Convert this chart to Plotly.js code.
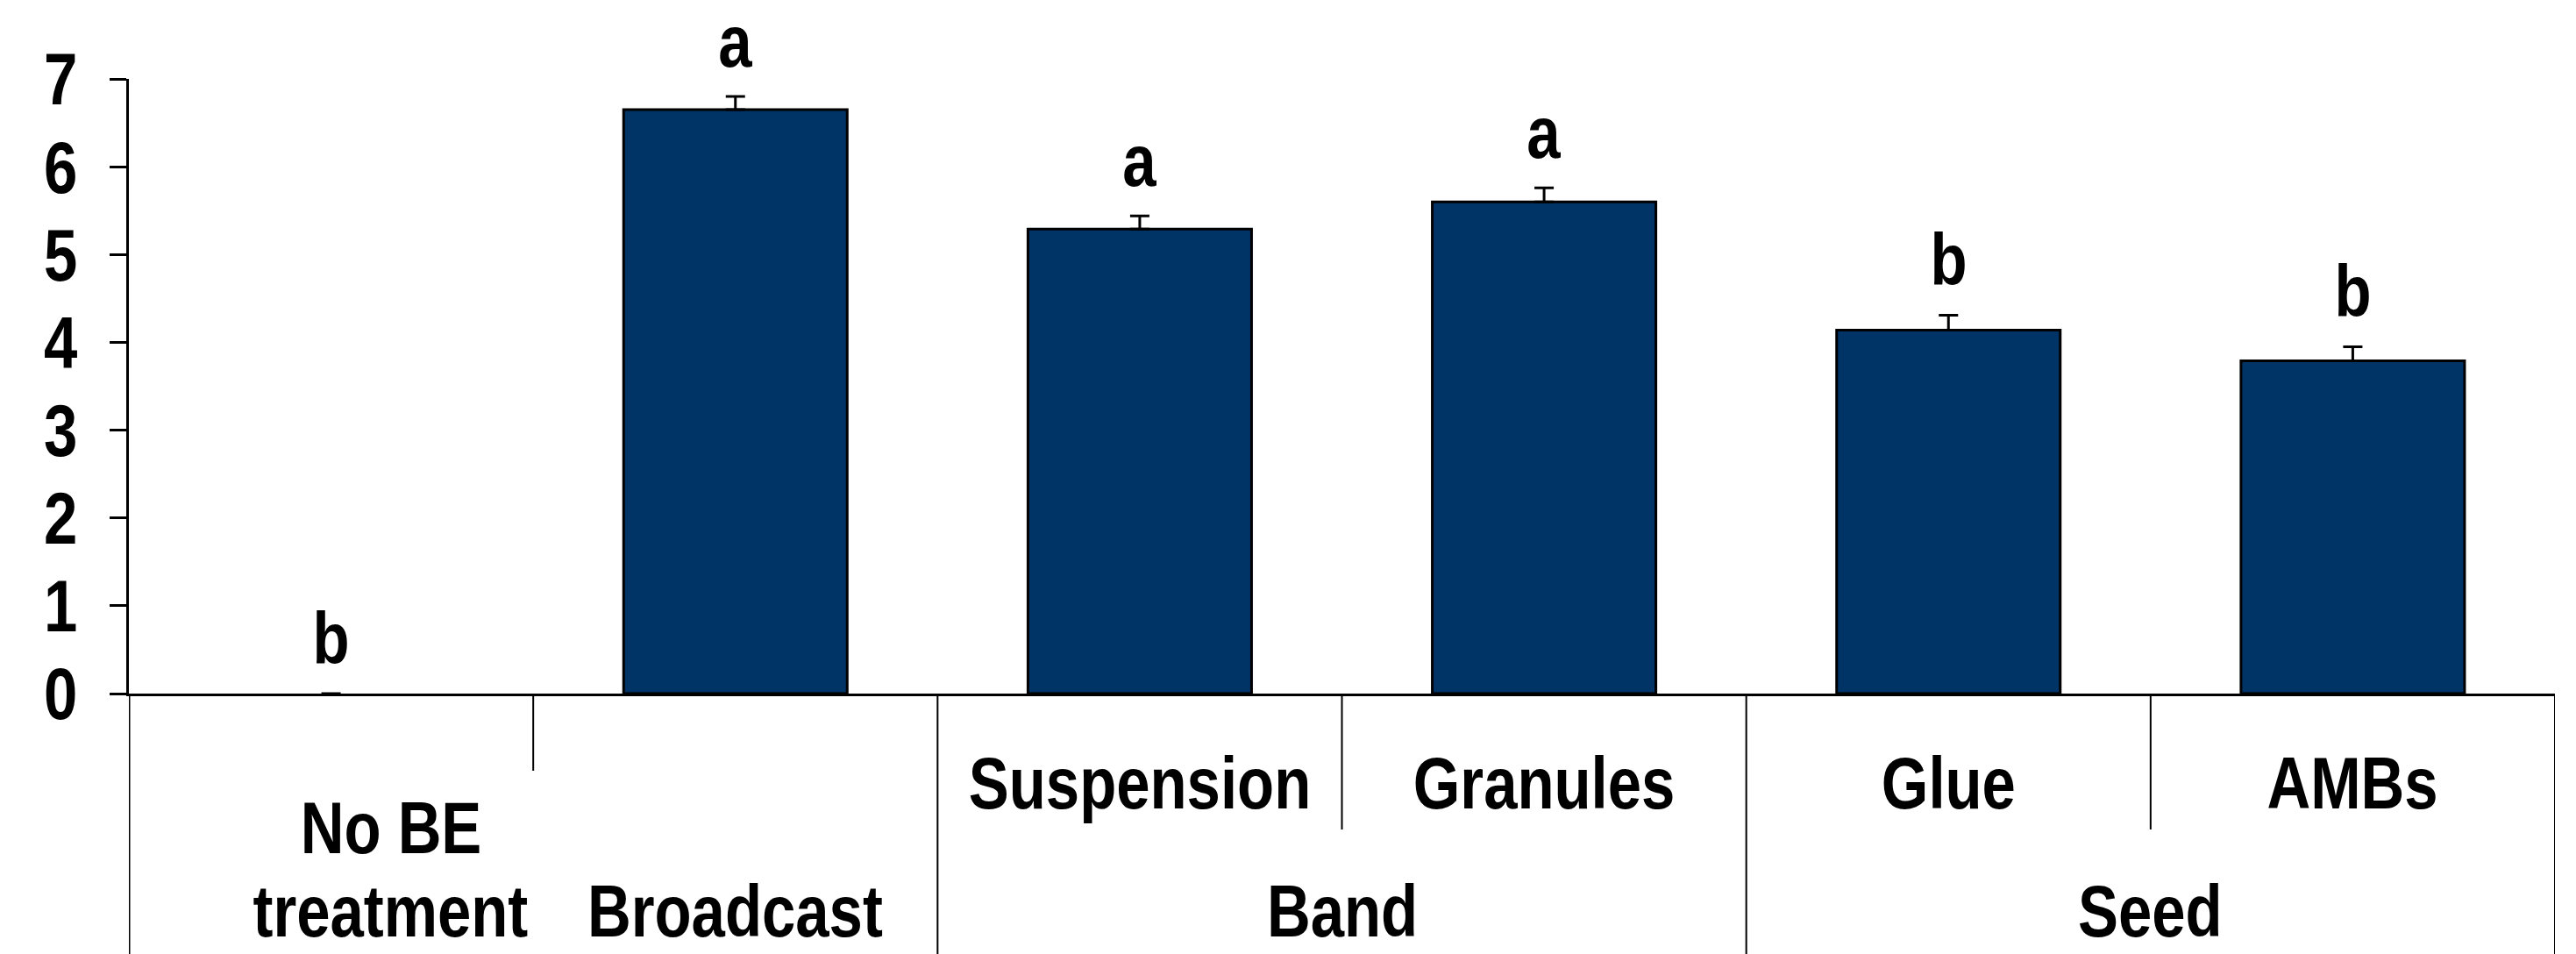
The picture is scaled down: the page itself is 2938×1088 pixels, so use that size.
<!DOCTYPE html>
<html>
<head>
<meta charset="utf-8">
<script src="https://cdn.plot.ly/plotly-3.0.1.min.js"></script>
<style>
  html, body { margin: 0; padding: 0; background: #ffffff; }
  #chart { width: 2938px; height: 1088px; }
</style>
</head>
<body>
<div id="chart"></div>
<script>
// ---- data ----
var categories = ["No BE treatment", "Broadcast", "Suspension", "Granules", "Glue", "AMBs"];
var groups     = ["", "", "Band", "Band", "Seed", "Seed"];
var values     = [0, 6.65, 5.29, 5.60, 4.14, 3.79];
var errors     = [null, 0.15, 0.15, 0.16, 0.17, 0.16];   // no error bar shown for the control
var letters    = ["b", "a", "a", "a", "b", "b"];
var yTickVals  = [0, 1, 2, 3, 4, 5, 6, 7];
var labelLines = { "No BE treatment": ["No BE", "treatment"] };

// ---- layout geometry ----
var W = 2938, H = 1088, M = { l: 147, r: 24, t: 90, b: 297 };
var plotH = H - M.t - M.b;
function paperY(py) { return (H - M.b - py) / plotH; }

var FONT = "Liberation Sans, Arial, sans-serif";
var NARROW = 0.82;   // the reference text is a narrow (condensed) face
var fontBig = { family: FONT, size: 84, color: "#000000", weight: "bold" };

var xIdx = categories.map(function (c, i) { return i; });

var trace = {
  type: "bar",
  x: xIdx,
  y: values,
  width: 0.553,
  marker: {
    color: "#003366",
    line: { color: "#000000", width: values.map(function (v) { return v > 0 ? 3 : 0; }) }
  },
  error_y: {
    type: "data", array: errors, arrayminus: errors.map(function (e) { return e === null ? null : 0; }),
    symmetric: false, visible: true, color: "#000000", thickness: 3, width: 11
  },
  hoverinfo: "x+y"
};

var annotations = [];
// significance letters
letters.forEach(function (t, i) {
  annotations.push({
    x: i, y: values[i] + (errors[i] || 0), xref: "x", yref: "y",
    text: t, showarrow: false, yanchor: "bottom", xanchor: "center",
    yshift: 14, font: fontBig
  });
});

// category labels (two-level axis)
var row1Base = 923, row2Base = 1069, desc = 19;
categories.forEach(function (c, i) {
  var lines = labelLines[c];
  if (lines) {
    annotations.push({ x: i, xshift: 68, y: paperY(974 + desc), xref: "x", yref: "paper",
      text: lines[0], showarrow: false, yanchor: "bottom", font: fontBig });
    annotations.push({ x: i, xshift: 68, y: paperY(row2Base + desc), xref: "x", yref: "paper",
      text: lines[1], showarrow: false, yanchor: "bottom", font: fontBig });
  } else if (groups[i]) {
    annotations.push({ x: i, y: paperY(row1Base + desc), xref: "x", yref: "paper",
      text: c, showarrow: false, yanchor: "bottom", font: fontBig });
  } else {
    annotations.push({ x: i, y: paperY(row2Base + desc), xref: "x", yref: "paper",
      text: c, showarrow: false, yanchor: "bottom", font: fontBig });
  }
});
// group labels
var seen = {};
groups.forEach(function (g, i) {
  if (!g || seen[g]) return;
  var idx = [];
  groups.forEach(function (h, j) { if (h === g) idx.push(j); });
  seen[g] = true;
  var mid = (idx[0] + idx[idx.length - 1]) / 2;
  annotations.push({ x: mid, y: paperY(row2Base + desc), xref: "x", yref: "paper",
    text: g, showarrow: false, yanchor: "bottom", font: fontBig });
});

// separators below the axis
var shapes = [];
var bottom = paperY(H + 5);
function vline(xv, y1, w) {
  shapes.push({ type: "line", xref: "x", yref: "paper", x0: xv, x1: xv, y0: 0, y1: y1,
    line: { color: "#000000", width: w } });
}
vline(-0.5, bottom, 3);                       // continuation of the y axis
vline(categories.length - 0.5, bottom, 2);    // right edge
for (var i = 0; i < categories.length - 1; i++) {
  var a = groups[i], b = groups[i + 1];
  if (a && a === b) {
    vline(i + 0.5, paperY(946), 2);          // inside a group
  } else if (!a && !b) {
    vline(i + 0.5, paperY(879), 2);          // between ungrouped labels
  } else {
    vline(i + 0.5, bottom, 2);               // group boundary
  }
}

var layout = {
  width: W, height: H,
  margin: M,
  paper_bgcolor: "#ffffff", plot_bgcolor: "#ffffff",
  showlegend: false,
  font: fontBig,
  xaxis: {
    type: "linear", range: [-0.5, categories.length - 0.5],
    showticklabels: false, ticks: "", showgrid: false, zeroline: false,
    showline: true, linecolor: "#000000", linewidth: 3, fixedrange: true
  },
  yaxis: {
    range: [0, 7], tickvals: yTickVals, ticktext: yTickVals.map(String),
    ticks: "outside", ticklen: 19, tickwidth: 3, tickcolor: "#000000",
    ticklabelstandoff: 20,
    showgrid: false, zeroline: false,
    showline: true, linecolor: "#000000", linewidth: 3,
    tickfont: fontBig, fixedrange: true
  },
  annotations: annotations,
  shapes: shapes
};

Plotly.newPlot("chart", [trace], layout, { displayModeBar: false, staticPlot: true })
  .then(function (gd) {
    // condense every label horizontally (narrow face of the original)
    var texts = gd.querySelectorAll("g.annotation text, g.ytick text");
    texts.forEach(function (el) {
      var w = el.getComputedTextLength();
      if (w > 0) {
        el.setAttribute("textLength", (w * NARROW).toFixed(2));
        el.setAttribute("lengthAdjust", "spacingAndGlyphs");
      }
    });
  });
</script>
</body>
</html>
